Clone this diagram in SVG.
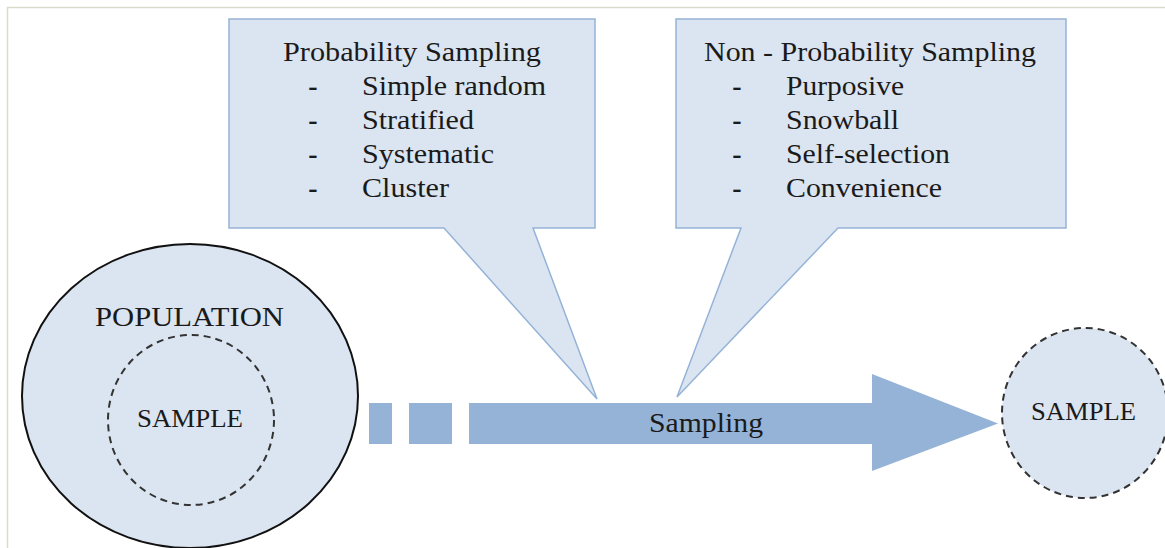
<svg xmlns="http://www.w3.org/2000/svg" width="1165" height="548" viewBox="0 0 1165 548">
<style>
.call{fill:#dbe5f1;stroke:#95b3d7;stroke-width:1.5}
.pop{fill:#dbe5f1;stroke:#111;stroke-width:2}
.dash{fill:#dbe5f1;stroke:#333;stroke-width:2;stroke-dasharray:7 5}
.arrow{fill:#95b3d7}
.bul{font-weight:bold}
</style>
<rect x="0" y="0" width="1165" height="548" fill="#fff"/>
<path d="M7.5,548 V7.5 H1165" fill="none" stroke="#dcdacb" stroke-width="1.5"/>
<g font-family="Liberation Serif, DejaVu Serif, serif" font-size="28" fill="#1a1a1a">
<g id="callout-probability">
<path class="call" d="M229,19 H595 V228 H533 L597,399 L444,228 H229 Z"/>
<text x="283" y="61" textLength="258" lengthAdjust="spacingAndGlyphs">Probability Sampling</text>
<text class="bul" x="313" y="95" text-anchor="middle">-</text>
<text class="bul" x="313" y="129" text-anchor="middle">-</text>
<text class="bul" x="313" y="163" text-anchor="middle">-</text>
<text class="bul" x="313" y="197" text-anchor="middle">-</text>
<text x="362" y="95" textLength="184" lengthAdjust="spacingAndGlyphs">Simple random</text>
<text x="362" y="129" textLength="112" lengthAdjust="spacingAndGlyphs">Stratified</text>
<text x="362" y="163" textLength="132" lengthAdjust="spacingAndGlyphs">Systematic</text>
<text x="362" y="197" textLength="87" lengthAdjust="spacingAndGlyphs">Cluster</text>
</g>
<g id="callout-nonprobability">
<path class="call" d="M676,19 H1066 V228 H838 L677,397 L741,228 H676 Z"/>
<text x="704" y="61" textLength="332" lengthAdjust="spacingAndGlyphs">Non - Probability Sampling</text>
<text class="bul" x="737" y="95" text-anchor="middle">-</text>
<text class="bul" x="737" y="129" text-anchor="middle">-</text>
<text class="bul" x="737" y="163" text-anchor="middle">-</text>
<text class="bul" x="737" y="197" text-anchor="middle">-</text>
<text x="786" y="95" textLength="118" lengthAdjust="spacingAndGlyphs">Purposive</text>
<text x="786" y="129" textLength="113" lengthAdjust="spacingAndGlyphs">Snowball</text>
<text x="786" y="163" textLength="164" lengthAdjust="spacingAndGlyphs">Self-selection</text>
<text x="786" y="197" textLength="156" lengthAdjust="spacingAndGlyphs">Convenience</text>
</g>
<g id="population">
<ellipse class="pop" cx="190" cy="396" rx="168" ry="152"/>
<text x="95" y="326" textLength="189" lengthAdjust="spacingAndGlyphs">POPULATION</text>
</g>
<g id="sample-inner">
<ellipse class="dash" cx="191" cy="420" rx="83" ry="85"/>
<text x="137" y="427" textLength="106" lengthAdjust="spacingAndGlyphs" font-size="26">SAMPLE</text>
</g>
<g id="connectors">
<rect class="arrow" x="369" y="403" width="23" height="41"/>
<rect class="arrow" x="409" y="403" width="43" height="41"/>
<polygon class="arrow" points="469,403 872,403 872,374 998,423.5 872,471 872,444 469,444"/>
<text x="649" y="432" textLength="114" lengthAdjust="spacingAndGlyphs">Sampling</text>
</g>
<g id="sample-outer">
<ellipse class="dash" cx="1085" cy="413" rx="83" ry="85"/>
<text x="1031" y="420" textLength="105" lengthAdjust="spacingAndGlyphs" font-size="26">SAMPLE</text>
</g>
</g>
</svg>
